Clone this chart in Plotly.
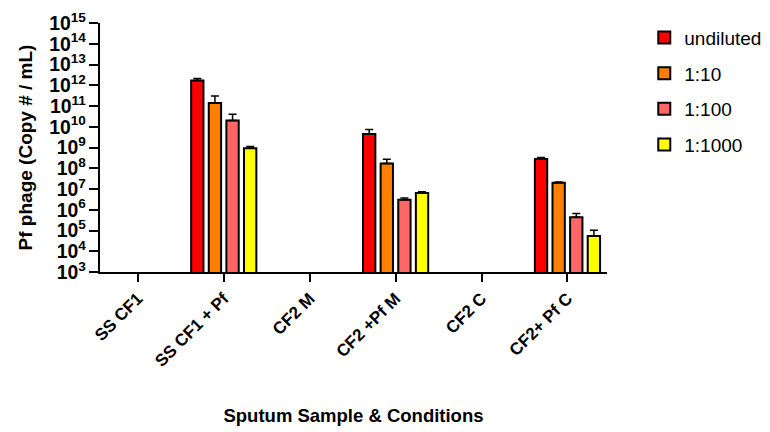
import plotly.graph_objects as go

categories = ["SS CF1", "SS CF1 + Pf", "CF2 M", "CF2 +Pf M", "CF2 C", "CF2+ Pf C"]
series_names = ["undiluted", "1:10", "1:100", "1:1000"]
undiluted = [None, 1.7e12, None, 4.5e9, None, 2.8e8]
d10 = [None, 1.4e11, None, 1.7e8, None, 2.0e7]
d100 = [None, 2.0e10, None, 3.0e6, None, 4.3e5]
d1000 = [None, 9.3e8, None, 6.5e6, None, 5.4e4]
err_undiluted = [0, 0.4e12, 0, 2.9e9, 0, 0.5e8]
err_d10 = [0, 1.6e11, 0, 1.05e8, 0, 0.15e7]
err_d100 = [0, 2.0e10, 0, 0.7e6, 0, 2.3e5]
err_d1000 = [0, 0.2e9, 0, 0.9e6, 0, 4.8e4]
colors = ["#ff0000", "#ff8000", "#ff6666", "#ffff00"]

values = [undiluted, d10, d100, d1000]
errs = [err_undiluted, err_d10, err_d100, err_d1000]

fig = go.Figure()
for i, (name, v, e, c) in enumerate(zip(series_names, values, errs, colors)):
    fig.add_trace(go.Bar(
        x=categories, y=v, name=name, legendgroup=f"g{i}",
        marker=dict(color=c, line=dict(color="black", width=2)),
        error_y=dict(type="data", array=e, arrayminus=[0] * len(e), symmetric=False,
                     color="black", thickness=1.5, width=4),
    ))

font_family = "Liberation Sans, Arial, sans-serif"
# page body has an 8px default margin; figure sized to fit the 770x432 window
fig.update_layout(
    width=762, height=424,
    margin=dict(l=92, r=163, t=15, b=160, autoexpand=False),
    paper_bgcolor="white", plot_bgcolor="white",
    barmode="group", bargap=0.18, bargroupgap=0.3,
    font=dict(family=font_family, color="black"),
    legend=dict(xref="container", yref="container", x=0.835, y=0.975,
                xanchor="left", yanchor="top",
                font=dict(size=19, family=font_family), tracegroupgap=8,
                itemwidth=30, bgcolor="rgba(0,0,0,0)"),
    xaxis=dict(
        range=[-0.44, 5.46], showline=True, linecolor="black", linewidth=2,
        ticks="outside", ticklen=8, tickwidth=2, tickcolor="black",
        tickangle=-45, tickfont=dict(size=17, family=font_family, weight="bold"),
        title=dict(text="Sputum Sample & Conditions", standoff=40,
                   font=dict(size=18.5, family=font_family, weight="bold")),
        showgrid=False, zeroline=False, automargin=False,
    ),
    yaxis=dict(
        type="log", range=[3, 15], dtick=1, exponentformat="power",
        showline=True, linecolor="black", linewidth=2,
        ticks="outside", ticklen=9, tickwidth=2, tickcolor="black",
        tickfont=dict(size=15.5, family=font_family, weight="bold"),
        ticklabeloverflow="allow",
        title=dict(text="Pf phage (Copy # / mL)", standoff=12,
                   font=dict(size=19, family=font_family, weight="bold")),
        showgrid=False, zeroline=False, automargin=False,
    ),
)

fig.write_html("out.html")
